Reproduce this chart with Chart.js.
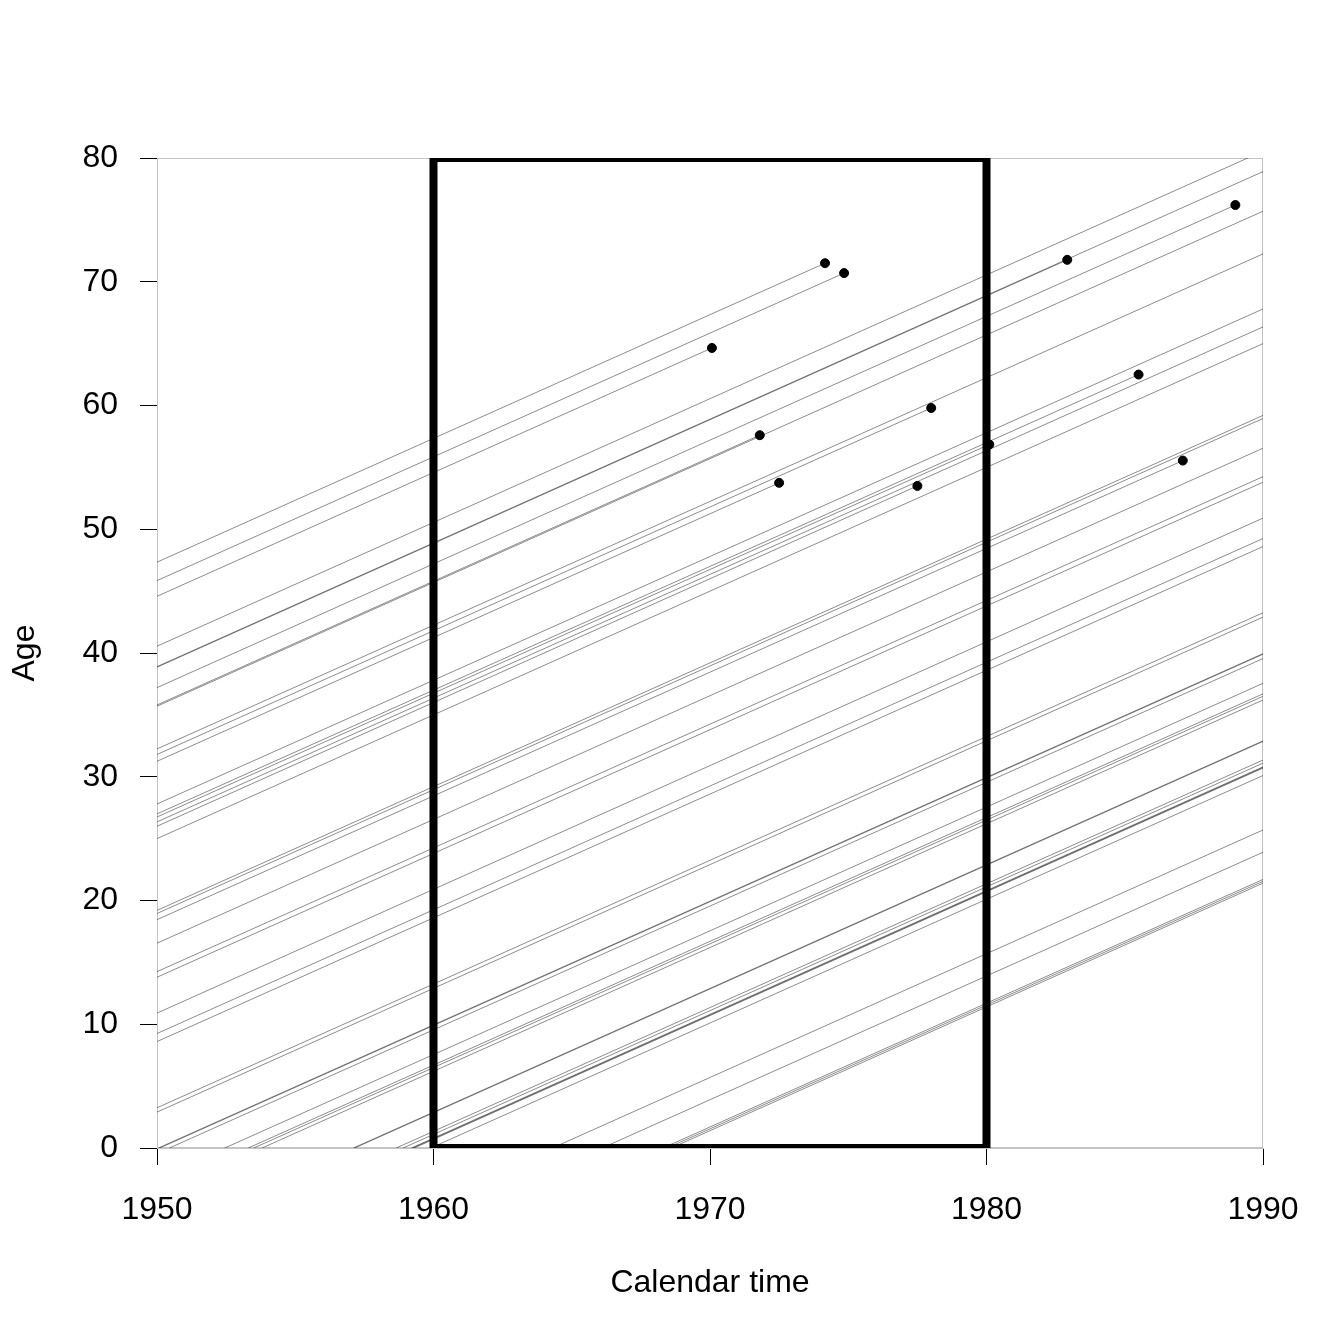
<!DOCTYPE html>
<html>
<head>
<meta charset="utf-8">
<script src="https://cdn.jsdelivr.net/npm/chart.js@4"></script>
<style>
  body { margin: 0; background: #fff; }
  canvas { display: block; }
</style>
</head>
<body>
<canvas id="lexis" width="1344" height="1344"></canvas>
<script>
// birth dates (decimal years), exit dates, and whether the exit was a death
var births = [1902.66, 1904.15, 1905.42, 1909.45, 1911.15, 1911.1, 1912.8, 1914.2, 1914.3, 1917.75,
              1918.2, 1918.75, 1922.2, 1923.0, 1923.25, 1923.65, 1924.0, 1925.0, 1930.8, 1931.05,
              1931.55, 1933.45, 1935.75, 1936.2, 1939.1, 1940.75, 1941.4, 1946.75, 1947.1, 1950.05,
              1950.1, 1950.45, 1952.45, 1953.3, 1953.5, 1953.8, 1957.1, 1957.15, 1958.65, 1958.9,
              1959.2, 1959.25, 1959.3, 1959.9, 1964.3, 1966.1, 1968.3, 1968.45, 1968.6];
var exits  = [1974.16, 1974.85, 1970.07, 1990, 1982.92, 1990, 1989.0, 1971.8, 1990, 1990,
              1978.0, 1972.5, 1990, 1985.5, 1980.1, 1990, 1977.5, 1990, 1990, 1990,
              1987.1, 1990, 1990, 1990, 1990, 1990, 1990, 1990, 1990, 1990,
              1990, 1990, 1990, 1990, 1990, 1990, 1990, 1990, 1990, 1990,
              1990, 1990, 1990, 1990, 1990, 1990, 1990, 1990, 1990];
var died   = [1, 1, 1, 0, 1, 0, 1, 1, 0, 0,
              1, 1, 0, 1, 1, 0, 1, 0, 0, 0,
              1, 0, 0, 0, 0, 0, 0, 0, 0, 0,
              0, 0, 0, 0, 0, 0, 0, 0, 0, 0,
              0, 0, 0, 0, 0, 0, 0, 0, 0];

// study window drawn as a thick box
var boxX = [1960, 1960, 1980, 1980, 1960];
var boxY = [0, 80, 80, 0, 0];

var xTicks = [1950, 1960, 1970, 1980, 1990];
var yTicks = [0, 10, 20, 30, 40, 50, 60, 70, 80];

var datasets = [];
var deaths = [];
for (var i = 0; i < births.length; i++) {
    var start = Math.max(births[i], 1950);
    datasets.push({
        type: 'line',
        data: [{x: start, y: start - births[i]}, {x: exits[i], y: exits[i] - births[i]}],
        borderColor: 'rgba(0,0,0,0.45)',
        borderWidth: 1,
        pointRadius: 0,
        fill: false,
        clip: 0,
        order: 3
    });
    if (died[i]) deaths.push({x: exits[i], y: exits[i] - births[i]});
}

var box = [];
for (var j = 0; j < boxX.length; j++) box.push({x: boxX[j], y: boxY[j]});
datasets.push({
    type: 'line',
    data: box,
    borderColor: '#000',
    borderWidth: 8,
    pointRadius: 0,
    fill: false,
    clip: 0,
    order: 2
});
datasets.push({
    type: 'scatter',
    data: deaths,
    backgroundColor: '#000',
    borderColor: '#000',
    pointRadius: 4.5,
    clip: false,
    order: 1
});

// grey frame round the plot region
var frame = {
    id: 'frame',
    beforeDatasetsDraw: function(chart) {
        var a = chart.chartArea, c = chart.ctx;
        c.save();
        c.strokeStyle = '#c4c4c4';
        c.lineWidth = 1;
        c.strokeRect(a.left + 0.5, a.top + 0.5, a.right - a.left - 1, a.bottom - a.top - 1);
        c.restore();
    }
};

var font = {family: "'Liberation Sans', Arial, sans-serif", size: 32};

const chart = new Chart(document.getElementById('lexis').getContext('2d'), {
    type: 'line',
    data: {datasets: datasets},
    options: {
        responsive: false,
        animation: false,
        layout: {padding: {left: 0, top: 158, right: 81, bottom: 0}},
        plugins: {legend: {display: false}, tooltip: {enabled: false}},
        scales: {
            x: {
                type: 'linear',
                min: 1950, max: 1990,
                afterBuildTicks: function(s) { s.ticks = xTicks.map(function(v) { return {value: v}; }); },
                afterFit: function(s) { s.height = 196; },
                ticks: {color: '#000', font: font, padding: 26, maxRotation: 0,
                        callback: function(v) { return String(v); }},
                grid: {drawOnChartArea: false, color: '#000', tickLength: 17},
                border: {color: '#c4c4c4'},
                title: {display: true, text: 'Calendar time', color: '#000', font: font, padding: {top: 0, bottom: 42}}
            },
            y: {
                type: 'linear',
                min: 0, max: 80,
                afterBuildTicks: function(s) { s.ticks = yTicks.map(function(v) { return {value: v}; }); },
                afterFit: function(s) { s.width = 157; },
                ticks: {color: '#000', font: font, padding: 22,
                        callback: function(v) { return String(v); }},
                grid: {drawOnChartArea: false, color: '#000', tickLength: 17},
                border: {color: '#c4c4c4'},
                title: {display: true, text: 'Age', color: '#000', font: font, padding: {top: 6, bottom: 0}}
            }
        }
    },
    plugins: [frame]
});
</script>
</body>
</html>
